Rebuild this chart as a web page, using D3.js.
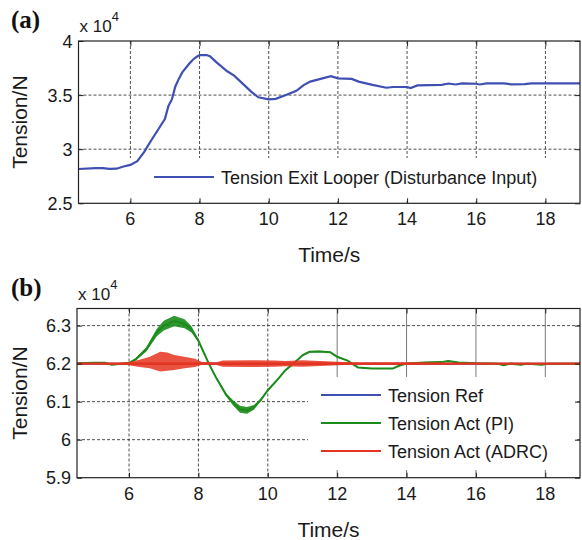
<!DOCTYPE html>
<html>
<head>
<meta charset="utf-8">
<script src="https://cdn.jsdelivr.net/npm/d3@7"></script>
<style>
body { margin: 0; background: #fff; }
svg { display: block; font-family: "Liberation Sans", Arial, sans-serif; }
</style>
</head>
<body>
<svg id="chart" width="582" height="540"></svg>
<script>
// ---------- DATA ----------
const xTicks = [6, 8, 10, 12, 14, 16, 18];
const aYTicks = [2.5, 3, 3.5, 4];
const bYTicks = [5.9, 6, 6.1, 6.2, 6.3];

// Panel (a): Tension Exit Looper (x 10^4 N)
const aTime = [4.5, 5.0, 5.2, 5.4, 5.6, 5.8, 6.0, 6.2, 6.4, 6.6, 6.8, 7.0, 7.1, 7.2, 7.3, 7.4, 7.5, 7.7, 7.8, 7.9, 8.0, 8.2, 8.3, 8.5, 8.8, 9.0, 9.2, 9.5, 9.7, 10.0, 10.2, 10.5, 10.8, 11.0, 11.2, 11.5, 11.8, 12.0, 12.4, 12.6, 13.0, 13.4, 13.6, 14.0, 14.1, 14.3, 15.0, 15.2, 15.4, 15.6, 16.0, 16.1, 16.3, 16.8, 17.0, 17.4, 17.6, 19.0];
const aTension = [2.817, 2.825, 2.825, 2.818, 2.82, 2.84, 2.855, 2.89, 2.975, 3.08, 3.18, 3.28, 3.40, 3.46, 3.58, 3.65, 3.71, 3.79, 3.825, 3.85, 3.87, 3.87, 3.86, 3.80, 3.72, 3.68, 3.62, 3.53, 3.48, 3.46, 3.465, 3.50, 3.54, 3.59, 3.625, 3.65, 3.675, 3.655, 3.65, 3.625, 3.595, 3.568, 3.575, 3.575, 3.565, 3.59, 3.595, 3.607, 3.598, 3.608, 3.605, 3.598, 3.608, 3.608, 3.60, 3.602, 3.608, 3.608];

// Panel (b): Tension Ref (x 10^4 N)
const refTime = [4.5, 19.0];
const refTension = [6.2, 6.2];

// Panel (b): Tension Act (PI): centre value and half-width of noise band
const piTime = [4.5, 5.0, 5.3, 5.5, 5.7, 6.0, 6.2, 6.5, 6.8, 7.0, 7.3, 7.6, 7.8, 8.0, 8.3, 8.5, 8.8, 9.0, 9.2, 9.4, 9.6, 9.8, 10.0, 10.3, 10.5, 10.8, 11.0, 11.2, 11.5, 11.8, 12.0, 12.3, 12.6, 13.0, 13.6, 13.8, 14.0, 14.5, 15.0, 15.2, 15.5, 16.0, 16.6, 16.8, 17.0, 17.3, 17.5, 17.9, 18.1, 18.4, 19.0];
const piTension = [6.201, 6.202, 6.202, 6.197, 6.199, 6.202, 6.212, 6.238, 6.282, 6.300, 6.312, 6.305, 6.290, 6.260, 6.200, 6.165, 6.118, 6.097, 6.080, 6.077, 6.085, 6.105, 6.130, 6.160, 6.182, 6.205, 6.222, 6.231, 6.232, 6.230, 6.218, 6.208, 6.190, 6.187, 6.187, 6.195, 6.200, 6.203, 6.204, 6.207, 6.203, 6.201, 6.200, 6.196, 6.200, 6.197, 6.200, 6.197, 6.200, 6.200, 6.200];
const piNoise = [0.001, 0.001, 0.001, 0.001, 0.001, 0.001, 0.003, 0.006, 0.010, 0.013, 0.014, 0.012, 0.008, 0.004, 0.002, 0.002, 0.004, 0.007, 0.009, 0.009, 0.006, 0.003, 0.002, 0.002, 0.002, 0.002, 0.002, 0.002, 0.002, 0.002, 0.002, 0.001, 0.001, 0.001, 0.001, 0.001, 0.001, 0.001, 0.001, 0.001, 0.001, 0.001, 0.001, 0.001, 0.001, 0.001, 0.001, 0.001, 0.001, 0.001, 0.001];

// Panel (b): Tension Act (ADRC): upper / lower envelope of the oscillation
const adrcTime = [4.5, 5.8, 6.0, 6.3, 6.6, 6.9, 7.1, 7.3, 7.6, 7.9, 8.1, 8.5, 8.7, 9.5, 10.2, 10.5, 11.0, 11.5, 12.0, 12.5, 13.0, 14.0, 15.0, 16.0, 19.0];
const adrcHigh = [6.201, 6.202, 6.204, 6.210, 6.218, 6.231, 6.229, 6.223, 6.218, 6.213, 6.204, 6.203, 6.208, 6.209, 6.208, 6.207, 6.209, 6.207, 6.205, 6.203, 6.203, 6.203, 6.202, 6.201, 6.201];
const adrcLow = [6.199, 6.198, 6.196, 6.191, 6.188, 6.179, 6.181, 6.183, 6.188, 6.191, 6.197, 6.197, 6.192, 6.191, 6.192, 6.193, 6.192, 6.194, 6.196, 6.197, 6.197, 6.197, 6.198, 6.199, 6.199];

// ---------- DRAW ----------
const svg = d3.select("#chart");
const BLUE = "#3f4fb2", GREEN = "#1b8c1b", RED = "#e5331f";

function panel(cfg) {
  const x = d3.scaleLinear().domain([4.5, 19]).range([cfg.left, cfg.right]);
  const y = d3.scaleLinear().domain(cfg.yDomain).range([cfg.bottom, cfg.top]);
  const g = svg.append("g");
  const clipId = "clip" + cfg.id;
  g.append("clipPath").attr("id", clipId).append("rect")
    .attr("x", cfg.left).attr("y", cfg.top)
    .attr("width", cfg.right - cfg.left).attr("height", cfg.bottom - cfg.top);

  // grid
  const grid = g.append("g");
  grid.selectAll("line.vg").data(xTicks).join("line")
    .attr("x1", d => x(d)).attr("x2", d => x(d))
    .attr("y1", cfg.top).attr("y2", cfg.bottom)
    .attr("stroke", d => cfg.solidFrom != null && d >= cfg.solidFrom ? "#777" : "#222")
    .attr("stroke-width", d => cfg.solidFrom != null && d >= cfg.solidFrom ? 1 : 0.8)
    .attr("stroke-dasharray", d => cfg.solidFrom != null && d >= cfg.solidFrom ? null : "3,2");
  grid.selectAll("line.hg").data(cfg.yTicks.filter(d => d > cfg.yDomain[0] && d < cfg.yDomain[1])).join("line")
    .attr("x1", cfg.left).attr("x2", cfg.right)
    .attr("y1", d => y(d)).attr("y2", d => y(d))
    .attr("stroke", "#222").attr("stroke-width", 0.8).attr("stroke-dasharray", "3,2");

  // legend background (white, covers grid, under the data)
  g.append("rect").attr("x", cfg.legend.x).attr("y", cfg.legend.y)
    .attr("width", cfg.legend.w).attr("height", cfg.legend.h).attr("fill", "#fff");

  // series
  const plot = g.append("g").attr("clip-path", `url(#${clipId})`);
  cfg.draw(plot, x, y);

  // legend entries
  const lg = g.append("g");
  cfg.legend.items.forEach((it, i) => {
    const yy = cfg.legend.firstY + i * cfg.legend.step;
    lg.append("line").attr("x1", cfg.legend.lineX).attr("x2", cfg.legend.lineX + 60)
      .attr("y1", yy).attr("y2", yy).attr("stroke", it.color).attr("stroke-width", 2.2);
    lg.append("text").attr("x", cfg.legend.lineX + 67).attr("y", yy + 6.5)
      .attr("font-size", 18).attr("fill", "#1a1a1a").text(it.label);
  });

  // axes (ticks inward on all sides)
  const tl = 5;
  const axB = d3.axisBottom(x).tickValues(xTicks).tickSize(-tl).tickFormat("");
  const axT = d3.axisTop(x).tickValues(xTicks).tickSize(-tl).tickFormat("");
  const axL = d3.axisLeft(y).tickValues(cfg.yTicks).tickSize(-tl).tickFormat("");
  const axR = d3.axisRight(y).tickValues(cfg.yTicks).tickSize(-tl).tickFormat("");
  [[axB, `translate(0,${cfg.bottom})`], [axT, `translate(0,${cfg.top})`],
   [axL, `translate(${cfg.left},0)`], [axR, `translate(${cfg.right},0)`]].forEach(([ax, tr]) => {
    const a = g.append("g").attr("transform", tr).call(ax);
    a.select(".domain").remove();
    a.selectAll("line").attr("stroke", "#222").attr("stroke-width", 1);
  });
  g.append("rect").attr("x", cfg.left).attr("y", cfg.top)
    .attr("width", cfg.right - cfg.left).attr("height", cfg.bottom - cfg.top)
    .attr("fill", "none").attr("stroke", "#222").attr("stroke-width", 1.2);

  // tick labels
  g.selectAll("text.xl").data(xTicks).join("text")
    .attr("x", d => x(d)).attr("y", cfg.bottom + 22).attr("text-anchor", "middle")
    .attr("font-size", 18).attr("fill", "#1a1a1a").text(d => d);
  g.selectAll("text.yl").data(cfg.yTicks).join("text")
    .attr("x", cfg.left - 6).attr("y", d => y(d) + 6.5).attr("text-anchor", "end")
    .attr("font-size", 18).attr("fill", "#1a1a1a").text(d => d);

  // exponent
  const ex = g.append("text").attr("x", cfg.left + 1).attr("y", cfg.top - 9)
    .attr("font-size", 17).attr("fill", "#1a1a1a");
  ex.append("tspan").text("x 10");
  ex.append("tspan").attr("dy", -11).attr("font-size", 13).text("4");

  // axis titles
  g.append("text").attr("x", (cfg.left + cfg.right) / 2).attr("y", cfg.bottom + 59)
    .attr("text-anchor", "middle").attr("font-size", 21).attr("fill", "#1a1a1a").text("Time/s");
  g.append("text").attr("transform", `translate(27,${(cfg.top + cfg.bottom) / 2}) rotate(-90)`)
    .attr("text-anchor", "middle").attr("font-size", 21).attr("fill", "#1a1a1a").text("Tension/N");

  // panel tag
  g.append("text").attr("x", 11).attr("y", cfg.tagY)
    .attr("font-family", "'Liberation Serif', 'Times New Roman', serif")
    .attr("font-weight", "bold").attr("font-size", 25).attr("fill", "#111").text(cfg.tag);
}

panel({
  id: "a", tag: "(a)", tagY: 28,
  left: 78.5, right: 580, top: 41, bottom: 203.3,
  yDomain: [2.5, 4], yTicks: aYTicks,
  legend: { x: 118, y: 158, w: 444, h: 41, lineX: 154, firstY: 177, step: 0,
            items: [{ label: "Tension Exit Looper (Disturbance Input)", color: BLUE }] },
  draw: (p, x, y) => {
    const pts = aTime.map((t, i) => [t, aTension[i]]);
    p.append("path").datum(pts)
      .attr("d", d3.line().x(d => x(d[0])).y(d => y(d[1])))
      .attr("fill", "none").attr("stroke", BLUE).attr("stroke-width", 2.2);
  }
});

panel({
  id: "b", tag: "(b)", tagY: 296,
  left: 77, right: 580, top: 308.5, bottom: 477.7,
  yDomain: [5.9, 6.345], yTicks: bYTicks, solidFrom: 12,
  legend: { x: 308, y: 377, w: 267, h: 93, lineX: 321, firstY: 395, step: 28,
            items: [{ label: "Tension Ref", color: BLUE },
                    { label: "Tension Act (PI)", color: GREEN },
                    { label: "Tension Act (ADRC)", color: RED }] },
  draw: (p, x, y) => {
    // Ref
    p.append("path").datum(refTime.map((t, i) => [t, refTension[i]]))
      .attr("d", d3.line().x(d => x(d[0])).y(d => y(d[1])))
      .attr("fill", "none").attr("stroke", BLUE).attr("stroke-width", 2);
    // PI band + line
    const pi = piTime.map((t, i) => ({ t, v: piTension[i], n: piNoise[i] }));
    p.append("path").datum(pi)
      .attr("d", d3.area().x(d => x(d.t)).y0(d => y(d.v - d.n)).y1(d => y(d.v + d.n)))
      .attr("fill", GREEN).attr("opacity", 0.9);
    p.append("path").datum(pi)
      .attr("d", d3.line().x(d => x(d.t)).y(d => y(d.v)))
      .attr("fill", "none").attr("stroke", GREEN).attr("stroke-width", 2);
    // ADRC envelope + centre line
    const ad = adrcTime.map((t, i) => ({ t, hi: adrcHigh[i], lo: adrcLow[i] }));
    p.append("path").datum(ad)
      .attr("d", d3.area().x(d => x(d.t)).y0(d => y(d.lo)).y1(d => y(d.hi)))
      .attr("fill", RED).attr("opacity", 0.85);
    p.append("path").datum(refTime.map((t, i) => [t, refTension[i]]))
      .attr("d", d3.line().x(d => x(d[0])).y(d => y(d[1])))
      .attr("fill", "none").attr("stroke", RED).attr("stroke-width", 2.2);
  }
});
</script>
</body>
</html>
